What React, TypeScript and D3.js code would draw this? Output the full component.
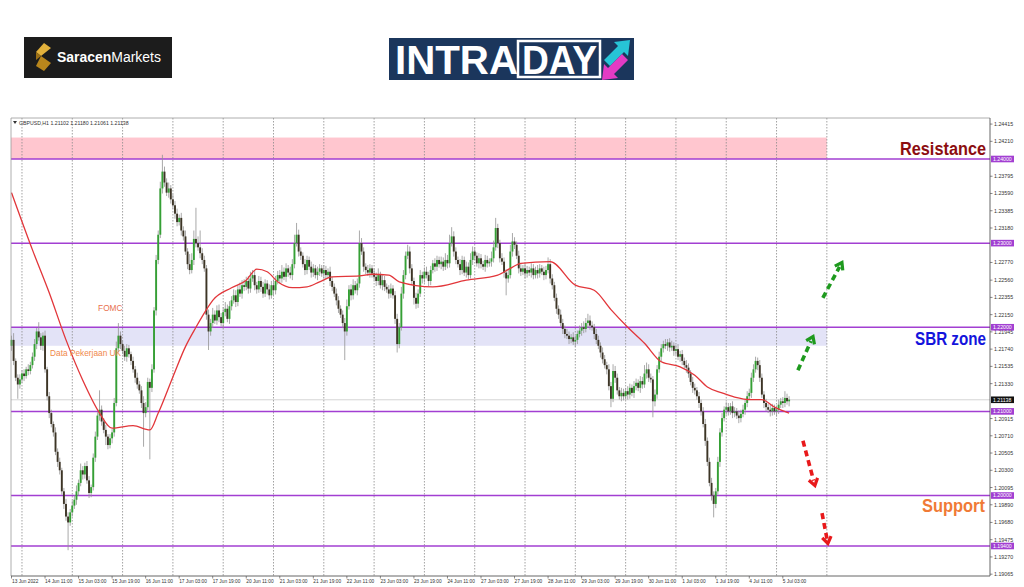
import React, { useEffect, useMemo } from 'react';
import * as d3 from 'd3';

const W = 1024;
const H = 587;

// ---- price data (H1 GBPUSD), values are price * 10000 ----
const open0 = 12178;
const closes = [
  12185, 12160, 12140, 12132, 12138, 12145, 12142, 12150, 12148, 12155,
  12165, 12180, 12195, 12188, 12178, 12190, 12150, 12118, 12098, 12085,
  12075, 12052, 12040, 12030, 12005, 11990, 11975, 11968, 11980, 11988,
  11995, 12005, 12015, 12030, 12025, 12035, 12018, 12003, 12010, 12045,
  12070, 12095, 12102, 12088, 12078, 12070, 12060, 12068, 12075, 12110,
  12175, 12190, 12180, 12172, 12165, 12175, 12168, 12160, 12150, 12140,
  12132, 12125, 12110, 12098, 12105, 12135, 12128, 12150, 12220, 12280,
  12310, 12365, 12385, 12372, 12360, 12365, 12352, 12345, 12335, 12325,
  12330, 12315, 12308, 12290, 12275, 12268, 12280, 12305, 12300, 12295,
  12288, 12280, 12270, 12215, 12195, 12205, 12215, 12208, 12220, 12212,
  12205, 12218, 12222, 12210, 12225, 12232, 12238, 12230, 12245, 12240,
  12250, 12248, 12255, 12246, 12258, 12262, 12250, 12245, 12255, 12248,
  12240, 12252, 12245, 12238, 12250, 12244, 12255, 12262, 12258, 12266,
  12260, 12270, 12265, 12262, 12275, 12300, 12310, 12290, 12285, 12275,
  12268, 12280, 12272, 12265, 12270, 12262, 12266, 12270, 12264, 12268,
  12262, 12266, 12255, 12248, 12240, 12232, 12222, 12215, 12205, 12195,
  12225, 12245, 12238, 12250, 12244, 12252, 12300, 12290, 12272, 12268,
  12265, 12270, 12264, 12260, 12255, 12262, 12250, 12256, 12248, 12245,
  12240, 12246, 12238, 12210, 12180, 12200, 12240, 12262, 12285, 12290,
  12270, 12255, 12235, 12228, 12240, 12262, 12258, 12266, 12262, 12255,
  12268, 12276, 12272, 12280, 12275, 12278, 12272, 12280, 12276, 12300,
  12308, 12290, 12280, 12275, 12268, 12280, 12265, 12272, 12262, 12280,
  12290, 12285, 12276, 12282, 12275, 12272, 12280, 12276, 12278, 12282,
  12295, 12318, 12300, 12282, 12278, 12265, 12258, 12262, 12290, 12302,
  12298, 12285, 12270, 12266, 12270, 12264, 12268, 12265, 12270, 12262,
  12268, 12264, 12270, 12266, 12262, 12268, 12275, 12258, 12250, 12235,
  12222, 12215, 12205, 12198, 12192, 12190, 12186, 12188, 12183, 12185,
  12192, 12196, 12200, 12198, 12205, 12208, 12202, 12200, 12192, 12185,
  12178, 12170, 12162, 12155, 12150, 12130, 12115, 12148, 12140, 12125,
  12118, 12122, 12118, 12124, 12120, 12128, 12122, 12130, 12134, 12128,
  12136, 12132, 12145, 12150, 12140, 12138, 12112, 12120, 12150, 12165,
  12175, 12180, 12178, 12182, 12176, 12178, 12172, 12174, 12165, 12168,
  12160, 12155, 12152, 12145, 12135, 12128, 12125, 12118, 12110, 12100,
  12085, 12065, 12040, 12015, 12000, 11990, 12005, 12040, 12075, 12092,
  12102, 12105, 12100, 12106, 12098, 12100, 12095, 12092, 12097, 12102,
  12110, 12118, 12122, 12140, 12150, 12160, 12155, 12140, 12120, 12110,
  12105, 12102, 12100, 12104, 12100, 12102, 12108, 12112, 12110, 12116,
  12112, 12114,
];
// upper / lower wick length beyond the body (pips)
const wickUp = [
  5, 8, 3, 4, 6, 4, 5, 3, 6, 4,
  5, 6, 4, 11, 5, 4, 6, 3, 5, 4,
  3, 6, 4, 5, 3, 4, 6, 5, 4, 6,
  5, 7, 4, 8, 5, 4, 6, 5, 3, 5,
  6, 4, 23, 5, 4, 6, 3, 5, 4, 6,
  8, 15, 5, 4, 6, 5, 4, 3, 5, 4,
  6, 4, 5, 8, 6, 5, 4, 6, 4, 6,
  5, 8, 20, 6, 5, 7, 4, 6, 5, 6,
  4, 6, 5, 7, 4, 12, 8, 10, 37, 8,
  20, 6, 5, 4, 6, 5, 8, 5, 6, 7,
  5, 6, 8, 5, 6, 5, 7, 6, 5, 8,
  6, 7, 5, 6, 8, 6, 5, 4, 6, 5,
  6, 5, 4, 6, 5, 7, 6, 5, 6, 8,
  5, 6, 4, 7, 6, 10, 14, 6, 5, 4,
  6, 5, 4, 6, 5, 4, 6, 5, 4, 6,
  5, 4, 6, 5, 4, 6, 5, 4, 5, 6,
  8, 5, 6, 7, 5, 6, 15, 6, 5, 4,
  6, 5, 4, 6, 5, 8, 4, 6, 5, 4,
  5, 6, 4, 5, 6, 5, 8, 6, 5, 8,
  6, 5, 4, 6, 5, 6, 4, 5, 6, 4,
  5, 4, 6, 5, 4, 6, 5, 8, 6, 10,
  11, 6, 5, 4, 6, 5, 4, 6, 5, 8,
  6, 5, 4, 6, 5, 4, 6, 5, 4, 8,
  8, 12, 5, 4, 6, 5, 4, 6, 8, 10,
  5, 4, 6, 5, 4, 6, 5, 4, 6, 5,
  4, 6, 5, 4, 6, 5, 8, 6, 5, 4,
  5, 4, 6, 5, 4, 6, 5, 4, 6, 5,
  4, 6, 5, 7, 6, 8, 6, 5, 4, 6,
  5, 4, 6, 5, 4, 6, 5, 8, 6, 5,
  4, 6, 5, 4, 6, 5, 4, 6, 5, 4,
  6, 5, 10, 8, 6, 5, 4, 6, 5, 6,
  5, 4, 6, 4, 5, 6, 4, 5, 6, 4,
  5, 4, 6, 5, 4, 6, 5, 4, 5, 4,
  5, 6, 4, 5, 6, 5, 4, 6, 5, 6,
  4, 6, 5, 4, 6, 5, 4, 6, 5, 6,
  4, 6, 5, 6, 6, 5, 4, 6, 5, 4,
  5, 4, 6, 5, 4, 5, 6, 4, 5, 8,
  5, 4,
];
const wickDn = [
  6, 5, 4, 17, 5, 4, 6, 3, 5, 4,
  4, 5, 6, 4, 5, 6, 4, 5, 6, 4,
  5, 4, 6, 5, 4, 6, 5, 33, 4, 5,
  4, 6, 5, 4, 6, 5, 4, 6, 5, 4,
  5, 4, 6, 5, 4, 10, 5, 4, 6, 5,
  4, 5, 6, 4, 5, 6, 4, 5, 4, 6,
  5, 4, 6, 40, 5, 4, 85, 5, 4, 6,
  5, 4, 6, 5, 4, 6, 5, 4, 6, 5,
  4, 6, 5, 4, 6, 5, 4, 6, 5, 4,
  6, 5, 4, 6, 22, 5, 6, 4, 5, 6,
  4, 6, 5, 4, 6, 5, 4, 6, 5, 4,
  6, 5, 4, 6, 5, 4, 6, 5, 4, 6,
  5, 4, 6, 5, 4, 6, 5, 4, 6, 5,
  4, 6, 5, 4, 6, 5, 4, 6, 5, 4,
  6, 5, 4, 6, 5, 4, 6, 5, 4, 6,
  5, 4, 6, 5, 4, 6, 5, 4, 6, 34,
  5, 4, 6, 5, 4, 6, 5, 4, 6, 5,
  4, 6, 5, 4, 6, 5, 4, 6, 5, 4,
  6, 5, 4, 6, 10, 5, 4, 6, 5, 4,
  6, 5, 8, 6, 5, 4, 6, 5, 4, 6,
  5, 4, 6, 5, 4, 6, 5, 4, 6, 5,
  4, 6, 5, 4, 6, 5, 4, 6, 5, 4,
  6, 5, 4, 6, 5, 4, 6, 5, 4, 6,
  5, 4, 6, 5, 4, 6, 20, 5, 4, 6,
  5, 4, 6, 5, 4, 6, 5, 4, 6, 5,
  4, 6, 5, 4, 6, 5, 4, 6, 5, 4,
  6, 5, 4, 6, 5, 4, 6, 5, 4, 6,
  5, 4, 6, 5, 4, 6, 5, 4, 6, 5,
  4, 6, 5, 4, 6, 5, 10, 4, 6, 5,
  4, 6, 5, 4, 6, 5, 4, 6, 5, 4,
  6, 5, 4, 6, 5, 4, 19, 6, 5, 4,
  6, 5, 4, 6, 5, 4, 6, 5, 4, 6,
  5, 4, 6, 5, 4, 6, 5, 4, 6, 5,
  4, 6, 5, 4, 6, 16, 5, 4, 6, 5,
  4, 6, 5, 4, 6, 5, 4, 6, 5, 4,
  6, 5, 4, 6, 5, 4, 6, 5, 4, 6,
  5, 4, 6, 5, 4, 6, 5, 4, 6, 5,
  4, 6,
];

// moving average read at selected bars (price * 10000)
const maBars = [0, 10, 18, 26, 34, 42, 48, 58, 66, 70, 77, 83, 88, 93, 96, 105, 112, 117, 122, 127, 134, 141, 147, 153, 166, 172, 180, 185, 201, 217, 232, 238, 243, 257, 269, 278, 286, 294, 302, 310, 319, 326, 332, 339, 345, 353, 358, 364, 371];
const maValues = [12360, 12292, 12241, 12185, 12137, 12098, 12080, 12083, 12078, 12098, 12141, 12177, 12200, 12221, 12232, 12247, 12256, 12269, 12266, 12254, 12247, 12248, 12254, 12260, 12261, 12263, 12262, 12254, 12248, 12256, 12262, 12270, 12276, 12278, 12250, 12244, 12221, 12200, 12181, 12159, 12153, 12143, 12129, 12122, 12117, 12114, 12114, 12105, 12098];

// axis
const priceTickLabels = ['1.24415', '1.24210', '1.23795', '1.23590', '1.23385', '1.23180', '1.22770', '1.22560', '1.22355', '1.22150', '1.21945', '1.21740', '1.21535', '1.21330', '1.20915', '1.20710', '1.20505', '1.20300', '1.20095', '1.19890', '1.19680', '1.19475', '1.19270', '1.19065'];
const levelPrices = [1.24, 1.23, 1.22, 1.21, 1.2, 1.194];
const levelLabels = ['1.24000', '1.23000', '1.22000', '1.21000', '1.20000', '1.19400'];
const lastPrice = 1.21138;
const lastPriceLabel = '1.21138';
const timeTickBars = [0, 16, 32, 48, 64, 80, 96, 112, 128, 144, 160, 176, 192, 208, 224, 240, 256, 272, 288, 304, 320, 336, 352, 368];
const timeTickLabels = ['13 Jun 2022', '14 Jun 11:00', '15 Jun 03:00', '15 Jun 19:00', '16 Jun 11:00', '17 Jun 03:00', '17 Jun 19:00', '20 Jun 11:00', '21 Jun 03:00', '21 Jun 19:00', '22 Jun 11:00', '23 Jun 03:00', '23 Jun 19:00', '24 Jun 11:00', '27 Jun 03:00', '27 Jun 19:00', '28 Jun 11:00', '29 Jun 03:00', '29 Jun 19:00', '30 Jun 11:00', '1 Jul 03:00', '1 Jul 19:00', '4 Jul 11:00', '5 Jul 03:00'];
const daySeparatorBars = [5, 29, 53, 77, 101, 125, 149, 173, 197, 221, 245, 269, 293, 317, 341, 365, 389];
const titleText = 'GBPUSD,H1  1.21102 1.21180 1.21061 1.21138';

// zones [low, high] ending at bar 389
const zoneEndBar = 389;
const resistanceZone = [1.24, 1.24255];
const sbrZone = [1.2178, 1.22];

// annotation arrows in [bar, price]
const upArrows = [
  { from: [375.2, 1.2149], to: [382.4, 1.2189] },
  { from: [387.1, 1.2235], to: [396.2, 1.2277] },
];
const downArrows = [
  { from: [377.6, 1.2065], to: [383.3, 1.2012] },
  { from: [386.7, 1.1979], to: [389.5, 1.1943] },
];

const newsLabels = [
  { text: 'FOMC', bar: 41.3, price: 1.2219, color: '#e8704e' },
  { text: 'Data Pekerjaan UK', bar: 18.4, price: 1.21655, color: '#f0884a' },
];

const FONT = '"Liberation Sans", Arial, sans-serif';

function Arrow({ from, to, color, x, y }: any) {
  const x1 = x(from[0]), y1 = y(from[1]);
  const x2 = x(to[0]), y2 = y(to[1]);
  const ang = Math.atan2(y2 - y1, x2 - x1);
  const len = 8;
  const a1 = ang + Math.PI - 0.6;
  const a2 = ang + Math.PI + 0.6;
  const head = d3.path();
  head.moveTo(x2 + Math.cos(a1) * len, y2 + Math.sin(a1) * len);
  head.lineTo(x2, y2);
  head.lineTo(x2 + Math.cos(a2) * len, y2 + Math.sin(a2) * len);
  const sx = x2 - Math.cos(ang) * 5, sy = y2 - Math.sin(ang) * 5;
  return (
    <g>
      <line x1={x1} y1={y1} x2={sx} y2={sy} stroke={color} strokeWidth={3.6} strokeDasharray="6 4" />
      <path d={head.toString()} fill="none" stroke={color} strokeWidth={3.2} strokeLinejoin="miter" />
    </g>
  );
}

export default function App() {
  useEffect(() => {
    document.body.style.margin = '0';
  }, []);

  const x = d3.scaleLinear().domain([0, 100]).range([11.5, 11.5 + 209.6]);
  const y = d3.scaleLinear().domain([1.194, 1.24]).range([546, 159]);

  const candles = useMemo(() => {
    return closes.map((c, i) => {
      const o = i === 0 ? open0 : closes[i - 1];
      const hi = Math.max(o, c) + wickUp[i];
      const lo = Math.min(o, c) - wickDn[i];
      return { i, o: o / 1e4, c: c / 1e4, h: hi / 1e4, l: lo / 1e4 };
    });
  }, []);

  const maLine = d3
    .line<number>()
    .x((_, k) => x(maBars[k]))
    .y((v) => y(v / 1e4))
    .curve(d3.curveMonotoneX)(maValues) as string;

  const left = 11;
  const right = 990;
  const top = 118;
  const bottom = 576;
  const bw = 1.9;

  return (
    <svg width={W} height={H} style={{ position: 'absolute', left: 0, top: 0, background: '#fff' }} fontFamily={FONT}>
      <rect x={0} y={0} width={W} height={H} fill="#ffffff" />

      {/* Saracen Markets logo */}
      <g>
        <rect x={24} y={37} width={148} height={41} fill="#1c1c1c" />
        <path d="M44 43 L51 48 L41 56 L36 52 Z" fill="#e2b13c" />
        <path d="M41 56 L51 63 L44 71 L36 66 Z" fill="#b8861c" />
        <path d="M36 52 L41 56 L36 60 Z" fill="#9c7016" />
        <text x={57} y={62} fontSize={14} fill="#ffffff" textLength={104} lengthAdjust="spacingAndGlyphs">
          <tspan fontWeight={700}>Saracen</tspan>
          <tspan>Markets</tspan>
        </text>
      </g>

      {/* INTRADAY logo */}
      <g>
        <rect x={389} y={38} width={245} height={42} fill="#1b365c" />
        <text x={395} y={74} fontSize={40} fontWeight={700} fill="#ffffff" textLength={123} lengthAdjust="spacingAndGlyphs">INTRA</text>
        <rect x={518} y={41} width={82} height={36} fill="none" stroke="#ffffff" strokeWidth={2.5} />
        <text x={522} y={74} fontSize={40} fontWeight={700} fill="#ffffff" textLength={75} lengthAdjust="spacingAndGlyphs">DAY</text>
        <path d="M604 60 L618 46 L614 42 L630 40 L628 56 L624 52 L610 66 Z" fill="#27c4d6" />
        <path d="M628 60 L614 74 L618 78 L602 80 L604 64 L608 68 L622 54 Z" fill="#e33bc4" />
      </g>

      {/* zones */}
      <rect x={left} y={y(resistanceZone[1])} width={x(zoneEndBar) - left} height={y(resistanceZone[0]) - y(resistanceZone[1])} fill="#ffc6cf" />
      <rect x={left} y={y(sbrZone[1])} width={x(zoneEndBar) - left} height={y(sbrZone[0]) - y(sbrZone[1])} fill="#e3e3f7" />

      {/* day separators */}
      {daySeparatorBars.map((b) => (
        <line key={b} x1={x(b)} x2={x(b)} y1={top} y2={bottom} stroke="#8a8a8a" strokeWidth={0.8} strokeDasharray="1.5 1.5" />
      ))}

      {/* last price line */}
      <line x1={left} x2={right} y1={y(lastPrice)} y2={y(lastPrice)} stroke="#c8c8c8" strokeWidth={0.8} />

      {/* level lines */}
      {levelPrices.map((p) => (
        <line key={p} x1={left} x2={right} y1={y(p)} y2={y(p)} stroke="#a23fd2" strokeWidth={1.5} />
      ))}

      {/* candles */}
      <g>
        {candles.map((d) => {
          const cx = x(d.i);
          const up = d.c >= d.o;
          const yTop = y(Math.max(d.o, d.c));
          const yBot = y(Math.min(d.o, d.c));
          return (
            <g key={d.i}>
              <line x1={cx} x2={cx} y1={y(d.h)} y2={y(d.l)} stroke="#939393" strokeWidth={0.8} />
              <rect x={cx - bw / 2} y={yTop} width={bw} height={Math.max(0.8, yBot - yTop)} fill={up ? '#35a035' : '#3d3526'} />
            </g>
          );
        })}
      </g>

      {/* moving average */}
      <path d={maLine} fill="none" stroke="#e2363a" strokeWidth={1.3} />

      {/* news labels */}
      {newsLabels.map((n) => (
        <text key={n.text} x={x(n.bar)} y={y(n.price)} fontSize={8.3} fill={n.color}>{n.text}</text>
      ))}

      {/* arrows */}
      {upArrows.map((a, k) => (
        <Arrow key={'u' + k} from={a.from} to={a.to} color="#1e9a1e" x={x} y={y} />
      ))}
      {downArrows.map((a, k) => (
        <Arrow key={'d' + k} from={a.from} to={a.to} color="#e8191b" x={x} y={y} />
      ))}

      {/* zone captions */}
      <text x={900} y={155} fontSize={18} fontWeight={900} fill="#8c0d10" textLength={86} lengthAdjust="spacingAndGlyphs">Resistance</text>
      <text x={915} y={345} fontSize={18.5} fontWeight={900} fill="#1414dc" textLength={71} lengthAdjust="spacingAndGlyphs">SBR zone</text>
      <text x={922} y={512} fontSize={18} fontWeight={900} fill="#f07a36" textLength={63} lengthAdjust="spacingAndGlyphs">Support</text>

      {/* frame */}
      <line x1={left} x2={right} y1={top} y2={top} stroke="#9a9a9a" strokeWidth={0.8} />
      <line x1={left} x2={left} y1={top} y2={bottom} stroke="#9a9a9a" strokeWidth={0.8} />
      <line x1={right} x2={right} y1={top} y2={bottom} stroke="#555" strokeWidth={0.9} />
      <line x1={left} x2={right} y1={bottom} y2={bottom} stroke="#555" strokeWidth={0.9} />

      {/* title */}
      <path d={`M13 121 L17 121 L15 124 Z`} fill="#333" />
      <text x={19} y={125} fontSize={5.2} fill="#333">{titleText}</text>

      {/* price axis */}
      {priceTickLabels.map((t) => {
        const yy = y(+t);
        return (
          <g key={t}>
            <line x1={right} x2={right + 2.5} y1={yy} y2={yy} stroke="#555" strokeWidth={0.7} />
            <text x={right + 4} y={yy + 2} fontSize={5.3} fill="#333">{t}</text>
          </g>
        );
      })}
      {levelPrices.map((p, k) => (
        <g key={'lv' + p}>
          <rect x={right + 1} y={y(p) - 3.3} width={23} height={6.6} fill="#a23fd2" />
          <text x={right + 3} y={y(p) + 1.9} fontSize={5.2} fill="#ffffff">{levelLabels[k]}</text>
        </g>
      ))}
      <rect x={right + 1} y={y(lastPrice) - 3.3} width={23} height={6.6} fill="#111" />
      <text x={right + 3} y={y(lastPrice) + 1.9} fontSize={5.2} fill="#ffffff">{lastPriceLabel}</text>

      {/* time axis */}
      {timeTickBars.map((b, k) => (
        <g key={'t' + b}>
          <line x1={x(b)} x2={x(b)} y1={bottom} y2={bottom + 2.5} stroke="#555" strokeWidth={0.7} />
          <text x={b === 0 ? 12 : x(b)} y={583} fontSize={4.8} fill="#333">{timeTickLabels[k]}</text>
        </g>
      ))}
    </svg>
  );
}
